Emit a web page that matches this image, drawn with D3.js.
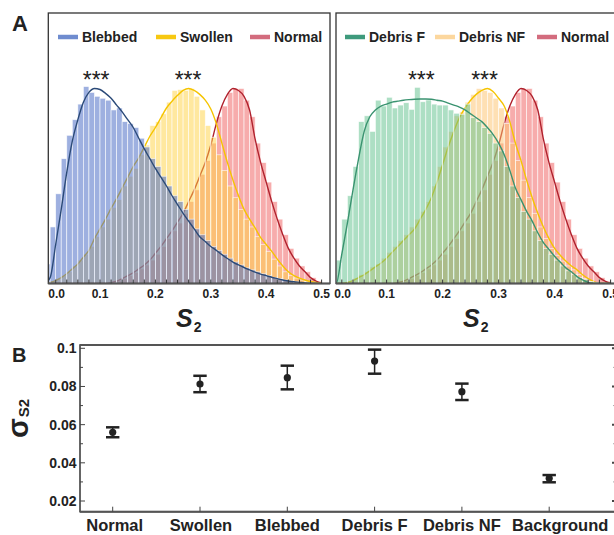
<!DOCTYPE html>
<html><head><meta charset="utf-8">
<script src="https://cdn.jsdelivr.net/npm/d3@7"></script>
<style>
body{margin:0;background:#fff}
svg{display:block;font-family:"Liberation Sans",Arial,sans-serif}
</style></head>
<body><svg id="c" width="614" height="535"></svg>
<script>
// ---------- DATA ----------
const binWidth = 0.01;           // histogram bin width (S2 units)
const fitStep = 0.01;            // spacing of fitted-curve samples
const xTicksA = [0.0, 0.1, 0.2, 0.3, 0.4, 0.5];

// histogram heights (relative, peak ~1), bins start at 0
const blebbedBars = [0.10,0.29,0.46,0.64,0.76,0.84,0.92,1.01,0.98,0.96,0.95,0.94,0.89,0.90,0.83,0.82,0.80,0.745,0.70,0.64,0.60,0.55,0.50,0.45,0.42,0.38,0.33,0.28,0.25,0.22,0.19,0.17,0.15,0.13,0.11,0.095,0.08,0.07,0.06,0.05,0.04,0.03,0.025,0.018,0.013,0.009,0.006,0.004,0.002,0.001];
const swollenBars = [0.005,0.012,0.025,0.04,0.06,0.09,0.12,0.15,0.19,0.24,0.29,0.33,0.39,0.43,0.50,0.55,0.59,0.66,0.71,0.81,0.83,0.87,0.93,0.99,0.995,0.99,1.0,0.96,0.89,0.81,0.75,0.66,0.58,0.50,0.44,0.38,0.33,0.29,0.24,0.20,0.165,0.125,0.09,0.06,0.04,0.028,0.018,0.01,0.005,0.002];
const normalBars = [0,0,0,0,0,0,0,0,0,0,0,0.002,0.006,0.014,0.026,0.04,0.056,0.075,0.095,0.12,0.15,0.19,0.23,0.27,0.31,0.36,0.42,0.48,0.56,0.63,0.72,0.855,0.91,0.98,1.0,1.0,0.94,0.855,0.72,0.62,0.52,0.42,0.33,0.25,0.18,0.13,0.09,0.06,0.03,0.012];
const debrisFBars = [0.02,0.12,0.33,0.45,0.60,0.83,0.86,0.78,0.94,0.91,0.955,0.90,0.915,0.927,0.893,1.006,0.932,0.941,0.92,0.915,0.915,0.89,0.873,0.868,0.92,0.85,0.83,0.80,0.77,0.72,0.68,0.60,0.50,0.44,0.37,0.33,0.27,0.22,0.18,0.15,0.12,0.09,0.065,0.045,0.03,0.02,0.01,0.005,0,0];
const debrisNFBars = [0,0,0.004,0.012,0.028,0.045,0.06,0.085,0.10,0.13,0.16,0.19,0.22,0.25,0.29,0.33,0.37,0.42,0.50,0.60,0.70,0.78,0.86,0.88,0.93,0.97,1.0,0.99,0.98,0.95,0.90,0.82,0.72,0.63,0.53,0.44,0.36,0.29,0.23,0.18,0.145,0.115,0.09,0.07,0.045,0.025,0.01,0,0,0];

// fitted curves sampled every 0.01 from 0 to 0.50
const blebbedFit = [0,0.03,0.2,0.38,0.57,0.73,0.84,0.93,0.98,1.0,0.995,0.975,0.95,0.915,0.88,0.84,0.80,0.745,0.69,0.64,0.59,0.545,0.50,0.45,0.405,0.36,0.32,0.28,0.24,0.215,0.19,0.17,0.148,0.128,0.11,0.095,0.082,0.07,0.058,0.048,0.04,0.032,0.025,0.018,0.013,0.009,0.006,0.003,0.001,0,0];
const swollenFit = [0,0.005,0.015,0.03,0.05,0.075,0.10,0.135,0.17,0.23,0.28,0.33,0.385,0.435,0.49,0.545,0.60,0.645,0.70,0.755,0.80,0.85,0.90,0.935,0.965,0.99,1.0,0.99,0.97,0.94,0.895,0.82,0.72,0.62,0.53,0.45,0.38,0.33,0.285,0.235,0.20,0.165,0.125,0.09,0.06,0.04,0.028,0.018,0.01,0.005,0];
const normalFit = [0,0,0,0,0,0,0,0,0,0,0,0,0.005,0.012,0.025,0.04,0.055,0.075,0.095,0.12,0.155,0.19,0.23,0.27,0.315,0.36,0.42,0.48,0.55,0.62,0.71,0.82,0.91,0.97,1.0,0.99,0.96,0.89,0.74,0.62,0.52,0.42,0.33,0.25,0.18,0.13,0.09,0.06,0.03,0.012,0];
const debrisFFit = [0,0,0.15,0.31,0.48,0.64,0.78,0.855,0.89,0.91,0.92,0.93,0.935,0.94,0.943,0.945,0.946,0.946,0.945,0.94,0.935,0.925,0.915,0.905,0.89,0.87,0.85,0.83,0.80,0.765,0.72,0.66,0.58,0.49,0.43,0.37,0.32,0.26,0.21,0.175,0.14,0.11,0.08,0.06,0.035,0.018,0.005,0,0,0,0];
const debrisNFFit = [0,0,0,0.005,0.015,0.03,0.045,0.065,0.085,0.105,0.13,0.16,0.19,0.22,0.25,0.28,0.33,0.38,0.44,0.52,0.61,0.70,0.78,0.85,0.90,0.94,0.97,0.99,1.0,0.985,0.95,0.91,0.83,0.72,0.63,0.53,0.44,0.36,0.29,0.23,0.18,0.145,0.115,0.09,0.07,0.045,0.025,0.01,0,0,0];

// panel B
const categories = ["Normal","Swollen","Blebbed","Debris F","Debris NF","Background"];
const sigmaMean = [0.0560,0.0813,0.0846,0.0933,0.0773,0.0319];
const sigmaLow  = [0.0534,0.0770,0.0785,0.0867,0.0729,0.0298];
const sigmaHigh = [0.0586,0.0856,0.0909,0.0993,0.0815,0.0336];
const yTicksB = [0.02,0.04,0.06,0.08,0.1];
const yMinorB = [0.03,0.05,0.07,0.09];

// ---------- DRAW ----------
const svg = d3.select("#c");
const defs = svg.append("defs");

function panel(opt){
  const {x0, w, id, series, legend, stars} = opt;
  const top = 13, bottom = 283.5;
  const x = d3.scaleLinear().domain([0, 0.5]).range([opt.z, opt.z + opt.k*0.5]);
  const y = d3.scaleLinear().domain([0, 1]).range([bottom, 88.5]);
  defs.append("clipPath").attr("id", id).append("rect")
    .attr("x", x0).attr("y", top).attr("width", w).attr("height", bottom - top);
  const g = svg.append("g").attr("clip-path", `url(#${id})`);
  // series drawn bottom to top: bars then its fitted curve
  series.forEach(s => {
    g.append("g").selectAll("rect").data(s.bars).join("rect")
      .attr("x", (d,i) => x(i*binWidth))
      .attr("width", (d,i) => x((i+1)*binWidth) - x(i*binWidth))
      .attr("y", d => y(d))
      .attr("height", d => y(0) - y(d))
      .attr("fill", s.bar).attr("fill-opacity", s.op)
      .attr("stroke", "#fff").attr("stroke-width", 0.7).attr("stroke-opacity", 0.8);
    const line = d3.line().x((d,i) => x(i*fitStep)).y(d => y(d)).curve(d3.curveMonotoneX);
    g.append("path").attr("d", line(s.fit)).attr("fill","none")
      .attr("stroke", s.line).attr("stroke-width", 1.4);
  });
  // frame
  svg.append("rect").attr("x", x0).attr("y", top).attr("width", w).attr("height", bottom-top)
    .attr("fill","none").attr("stroke","#333").attr("stroke-width",1.3);
  svg.append("line").attr("x1", x0).attr("x2", x0+w).attr("y1", bottom).attr("y2", bottom)
    .attr("stroke","#555").attr("stroke-width",2);
  // ticks
  const tg = svg.append("g").attr("clip-path", `url(#${id})`);
  tg.selectAll("line").data(d3.range(0, 0.52, 0.02)).join("line")
    .attr("x1", d=>x(d)).attr("x2", d=>x(d)).attr("y1", bottom).attr("y2", bottom-4)
    .attr("stroke","#333").attr("stroke-width",1);
  svg.append("g").selectAll("text").data(xTicksA).join("text")
    .attr("x", d => x(d) + (d === 0 ? 12 : 0)).attr("y", 298)
    .attr("text-anchor","middle").attr("font-size",12).attr("font-weight","bold").attr("fill","#222")
    .text(d => d.toFixed(1));
  // axis title
  const t = svg.append("text").attr("x", opt.titleX).attr("y", 326.5).attr("fill","#222")
    .attr("font-weight","bold");
  t.append("tspan").attr("font-size",25).attr("font-style","italic").text("S");
  t.append("tspan").attr("font-size",14).attr("dy",5).attr("dx",1).text("2");
  // legend
  legend.forEach(l => {
    svg.append("line").attr("x1", l.x).attr("x2", l.x+20).attr("y1", 37).attr("y2", 37)
      .attr("stroke", l.c).attr("stroke-width", 4.5);
    svg.append("text").attr("x", l.x+24).attr("y", 42).attr("font-size",14)
      .attr("font-weight","bold").attr("fill","#222").text(l.t);
  });
  stars.forEach(sx => {
    svg.append("text").attr("x", x(sx)).attr("y", 88).attr("text-anchor","middle")
      .attr("font-size",23).attr("fill","#222").text("***");
  });
}

panel({
  id:"clipL", x0:48.3, w:281.7, z:44.6, k:554, titleX:176,
  series:[
    {bars: normalBars, fit: normalFit, bar:"#f05a5a", op:0.5, line:"#b0222e"},
    {bars: swollenBars, fit: swollenFit, bar:"#ffd23f", op:0.5, line:"#f5c400"},
    {bars: blebbedBars, fit: blebbedFit, bar:"#4f6fc6", op:0.55, line:"#2b4a78"}
  ],
  legend:[{x:58,c:"#6f8ccf",t:"Blebbed"},{x:156,c:"#f7c811",t:"Swollen"},{x:250,c:"#d36c7e",t:"Normal"}],
  stars:[0.093, 0.259]
});
panel({
  id:"clipR", x0:336, w:281.7, z:330.6, k:560, titleX:463,
  series:[
    {bars: normalBars, fit: normalFit, bar:"#f05a5a", op:0.5, line:"#b0222e"},
    {bars: debrisNFBars, fit: debrisNFFit, bar:"#fdc26a", op:0.5, line:"#f5c400"},
    {bars: debrisFBars, fit: debrisFFit, bar:"#5cc08a", op:0.5, line:"#3a9370"}
  ],
  legend:[{x:345,c:"#3e9a7c",t:"Debris F"},{x:435,c:"#fcd79e",t:"Debris NF"},{x:537,c:"#d36c7e",t:"Normal"}],
  stars:[0.162, 0.275]
});

// panel letters
svg.append("text").attr("x",12).attr("y",31).attr("font-size",22).attr("font-weight","bold").attr("fill","#222").text("A");
svg.append("text").attr("x",12).attr("y",362).attr("font-size",20).attr("font-weight","bold").attr("fill","#222").text("B");

// ---------- PANEL B ----------
const xB = d3.scalePoint().domain(categories).range([112.7, 549.2]);
const yB = d3.scaleLinear().domain([0.02, 0.1]).range([501, 348.3]);
const bL = 80, bR = 615, bT = 345, bB = 511.7;
svg.append("rect").attr("x",bL).attr("y",bT).attr("width",bR-bL).attr("height",bB-bT)
  .attr("fill","none").attr("stroke","#333").attr("stroke-width",1.5);
svg.append("line").attr("x1",bL).attr("x2",bR).attr("y1",bB).attr("y2",bB).attr("stroke","#555").attr("stroke-width",2);
svg.append("line").attr("x1",bL).attr("x2",bR).attr("y1",bT).attr("y2",bT).attr("stroke","#555").attr("stroke-width",2);
const tk = svg.append("g").attr("stroke","#444").attr("stroke-width",1);
yTicksB.forEach(v => {
  tk.append("line").attr("x1",bL).attr("x2",bL+5).attr("y1",yB(v)).attr("y2",yB(v));
  tk.append("line").attr("x1",612).attr("x2",615).attr("y1",yB(v)).attr("y2",yB(v)).attr("stroke-width",2);
});
yMinorB.forEach(v => {
  tk.append("line").attr("x1",bL).attr("x2",bL+3).attr("y1",yB(v)).attr("y2",yB(v));
  tk.append("line").attr("x1",613).attr("x2",615).attr("y1",yB(v)).attr("y2",yB(v)).attr("stroke","#aaa");
});
categories.forEach(c => {
  tk.append("line").attr("x1",xB(c)).attr("x2",xB(c)).attr("y1",bB).attr("y2",bB-5);
});
svg.append("g").selectAll("text").data(yTicksB).join("text")
  .attr("x",76.5).attr("y",d=>yB(d)+5).attr("text-anchor","end")
  .attr("font-size",14).attr("font-weight","bold").attr("fill","#222")
  .text(d => d === 0.1 ? "0.1" : d.toFixed(2));
const labelShift = {"Normal":2, "Swollen":1, "Blebbed":0, "Debris F":0, "Debris NF":0, "Background":11};
svg.append("g").selectAll("text").data(categories).join("text")
  .attr("x",d=>xB(d) + labelShift[d]).attr("y",531).attr("text-anchor","middle")
  .attr("font-size",16.5).attr("font-weight","bold").attr("fill","#222").text(d=>d);
// error bars
const eb = svg.append("g").attr("stroke","#222");
categories.forEach((c,i) => {
  const cx = xB(c);
  eb.append("line").attr("x1",cx).attr("x2",cx).attr("y1",yB(sigmaLow[i])).attr("y2",yB(sigmaHigh[i])).attr("stroke-width",1.5);
  [sigmaLow[i], sigmaHigh[i]].forEach(v => {
    eb.append("line").attr("x1",cx-6.7).attr("x2",cx+6.7).attr("y1",yB(v)).attr("y2",yB(v)).attr("stroke-width",2.5);
  });
  svg.append("circle").attr("cx",cx).attr("cy",yB(sigmaMean[i])).attr("r",3.6).attr("fill","#222");
});
// y title sigma_S2
const yt = svg.append("text").attr("transform","translate(28,438) rotate(-90)").attr("fill","#222").attr("font-weight","bold");
yt.append("tspan").attr("font-size",29).text("σ");
yt.append("tspan").attr("font-size",15).attr("dy",1).attr("dx",1).text("S2");
</script></body></html>
